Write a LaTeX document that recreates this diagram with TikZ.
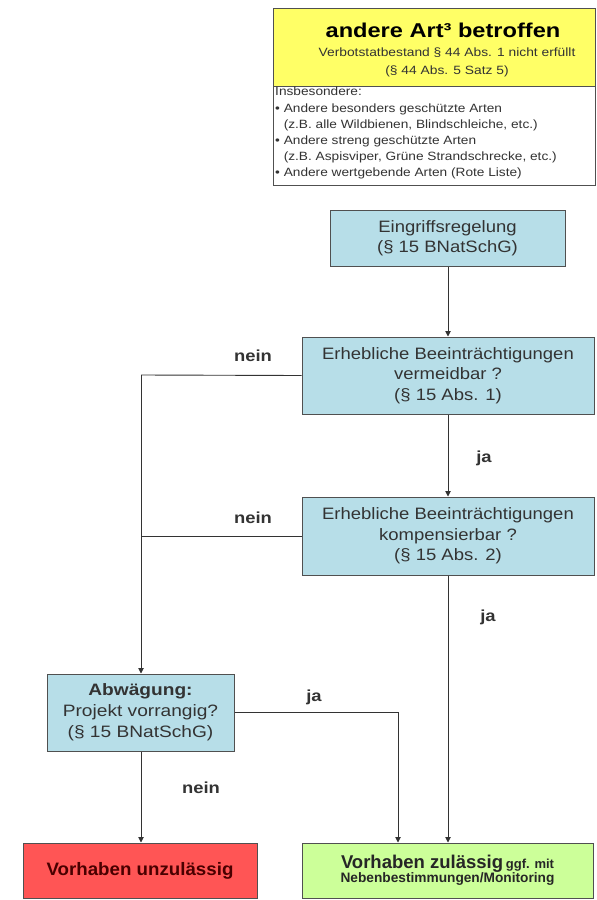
\documentclass[tikz,border=0pt]{standalone}
\usepackage{fontspec}
\setmainfont{Liberation Sans}
\usetikzlibrary{arrows.meta}
\definecolor{boxblue}{HTML}{B7DEE8}
\definecolor{boxyellow}{HTML}{FFFF66}
\definecolor{boxred}{HTML}{FF5555}
\definecolor{boxgreen}{HTML}{CCFF99}
\definecolor{edgegray}{HTML}{505050}
\definecolor{txtgray}{HTML}{333333}
\definecolor{darkred}{HTML}{4A0000}
\newcommand\setf[3]{\fontsize{#1}{#2}\selectfont\addfontfeature{FakeStretch=#3}}
\begin{document}
\begin{tikzpicture}[x=1pt,y=-1pt,
  bx/.style={draw=edgegray,line width=1pt,inner sep=0pt,align=center,text=txtgray},
  lbl/.style={font=\bfseries\setf{16}{18}{1.15},text=txtgray},
  conn/.style={line width=0.9pt,draw=black!80},
  arr/.style={conn,-{Triangle[width=5.5pt,length=5.5pt]}}]
\useasboundingbox[fill=white] (0,0) rectangle (597,900);
% yellow header
\node[bx,fill=boxyellow,minimum width=322pt,minimum height=78pt,anchor=north west,text=black] (head) at (273,8) {};
\node[font=\bfseries\setf{20}{22}{1.18}] (headt) at (443,30) {andere Art³ betroffen};
\node[font=\setf{12}{14}{1.15},text=txtgray,align=center] (heads) at (447,62) {Verbotstatbestand § 44 Abs. 1 nicht erfüllt\\[4pt](§ 44 Abs. 5 Satz 5)};
% white list box
\node[bx,fill=white,minimum width=322pt,minimum height=99pt,anchor=north west] (list) at (273,86) {};
\node[font=\setf{12}{16.2}{1.14},text=txtgray,align=left,anchor=north west,inner sep=0pt] (listt) at (275,87) {Insbesondere:\\
• Andere besonders geschützte Arten\\
\phantom{•} (z.B. alle Wildbienen, Blindschleiche, etc.)\\
• Andere streng geschützte Arten\\
\phantom{•} (z.B. Aspisviper, Grüne Strandschrecke, etc.)\\
• Andere wertgebende Arten (Rote Liste)};
% flow boxes
\node[bx,fill=boxblue,minimum width=235pt,minimum height=56pt,font=\setf{16.5}{20}{1.12}] (eing) at (447.5,238) {Eingriffsregelung\\(§ 15 BNatSchG)};
\node[bx,fill=boxblue,minimum width=292pt,minimum height=77pt,font=\setf{16.5}{20.5}{1.12}] (verm) at (448,375.5) {Erhebliche Beeinträchtigungen\\vermeidbar ?\\(§ 15 Abs. 1)};
\node[bx,fill=boxblue,minimum width=292pt,minimum height=78pt,font=\setf{16.5}{20.5}{1.12}] (komp) at (448,536) {Erhebliche Beeinträchtigungen\\kompensierbar ?\\(§ 15 Abs. 2)};
\node[bx,fill=boxblue,minimum width=187pt,minimum height=77pt,font=\setf{16.5}{21}{1.16}] (abw) at (140.5,712.5) {\textbf{Abwägung:}\\Projekt vorrangig?\\(§ 15 BNatSchG)};
\node[bx,fill=boxred,minimum width=234pt,minimum height=55pt,font=\bfseries\setf{18}{20}{1.04},text=darkred] (unz) at (140,870.5) {Vorhaben unzulässig};
\node[bx,fill=boxgreen,minimum width=291pt,minimum height=55pt,text=black!85] (zul) at (447.5,870.5) {{\bfseries\setf{18.5}{20}{1} Vorhaben zulässig} {\bfseries\setf{13}{20}{1} ggf. mit}\\[-1pt]{\bfseries\setf{13.7}{15}{1} Nebenbestimmungen/Monitoring}};
% connectors
\coordinate (lx) at (141,375);
\coordinate (rx) at (398,712);
\draw[arr] (eing.south -| 448,0) -- (verm.north -| 448,0);
\draw[arr] (verm.south -| 448,0) -- (komp.north -| 448,0);
\draw[arr] (komp.south -| 448,0) -- (zul.north -| 448,0);
\draw[conn] (verm.west) -- (lx);
\draw[arr] (lx) -- (abw.north -| lx);
\draw[conn] (komp.west) -- (komp.west -| lx);
\draw[arr] (abw.east |- rx) -- (rx) -- (zul.north -| rx);
\draw[arr] (abw.south -| lx) -- (unz.north -| lx);
% labels
\node[lbl] (n1) at (253,356) {nein};
\node[lbl] (n2) at (253,518) {nein};
\node[lbl] (j1) at (484,458) {ja};
\node[lbl] (j2) at (488,617) {ja};
\node[lbl] (j3) at (314,697) {ja};
\node[lbl] (n3) at (201,788) {nein};
\end{tikzpicture}
\end{document}
